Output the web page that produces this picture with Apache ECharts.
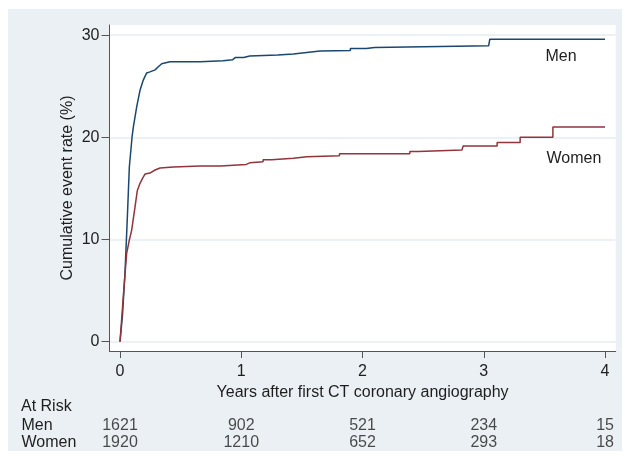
<!DOCTYPE html>
<html><head><meta charset="utf-8">
<script src="https://cdn.jsdelivr.net/npm/echarts@6/dist/echarts.min.js"></script>
<style>
html,body{margin:0;padding:0;background:#fff;}
#bg{position:absolute;left:8px;top:9px;width:614px;height:442px;background:#eaf0f3;}
#c{position:absolute;left:0;top:0;width:628px;height:456px;}
</style></head><body>
<div id="bg"></div><div id="c"></div>
<script>
// Cumulative event rate (%) vs years
const menTime = [0,0.02,0.041,0.06,0.077,0.10,0.11,0.138,0.165,0.192,0.22,0.247,0.289,0.316,0.344,0.412,0.66,0.66,0.85,0.85,0.93,0.95,1.02,1.02,1.07,1.07,1.30,1.30,1.43,1.43,1.54,1.54,1.65,1.65,1.90,1.90,2.03,2.03,2.10,2.10,3.04,3.05,4.0];
const menRate = [0,2.5,6.7,12.0,17.1,20.1,21.0,23.0,24.6,25.6,26.3,26.4,26.6,26.9,27.2,27.4,27.4,27.5,27.5,27.6,27.6,27.8,27.8,27.95,27.95,28.05,28.05,28.15,28.15,28.3,28.3,28.45,28.45,28.5,28.5,28.7,28.7,28.8,28.8,28.95,28.95,29.6,29.6];
const womenTime = [0,0.027,0.055,0.077,0.096,0.124,0.143,0.165,0.187,0.206,0.247,0.289,0.33,0.44,0.66,0.83,0.83,1.04,1.04,1.07,1.07,1.18,1.18,1.25,1.25,1.43,1.43,1.54,1.54,1.81,1.81,2.39,2.39,2.46,2.46,2.82,2.83,3.11,3.11,3.30,3.30,3.57,3.57,4.0];
const womenRate = [0,4.4,8.65,9.95,10.9,13.2,14.8,15.5,16.0,16.4,16.5,16.8,17.0,17.1,17.2,17.2,17.35,17.35,17.5,17.5,17.6,17.6,17.8,17.8,17.95,17.95,18.1,18.1,18.2,18.2,18.4,18.4,18.6,18.6,18.75,18.75,19.15,19.15,19.5,19.5,20.0,20.0,21.0,21.0];
const xTicks = [0,1,2,3,4];
const yTicks = [0,10,20,30];
const riskGroups = ['Men','Women'];
const atRiskMen = [1621,902,521,234,15];
const atRiskWomen = [1920,1210,652,293,18];
const menLabelAt = [3.505,27.86];
const womenLabelAt = [3.513,17.88];

const FONT = 'Liberation Sans, Arial, sans-serif';
const FS = 16;
const TXT = '#1e1e1e';
const AX = '#555';

function zip(a,b){return a.map((v,i)=>[v,b[i]]);}
const riskData = [];
xTicks.forEach((t,i)=>{
  riskData.push([t,'Men',atRiskMen[i]]);
  riskData.push([t,'Women',atRiskWomen[i]]);
});

const chart = echarts.init(document.getElementById('c'), null, {renderer:'canvas'});
chart.setOption({
  animation:false,
  backgroundColor:'transparent',
  textStyle:{fontFamily:FONT},
  grid:[
    {left:109.5,right:12.3,top:25,bottom:105,show:true,backgroundColor:'#ffffff',borderWidth:0},
    {left:109.5,right:12.3,top:417.5,height:34,show:false}
  ],
  xAxis:[
    {type:'value',gridIndex:0,min:-0.0866,max:4.088,
     axisLine:{show:true,onZero:false,lineStyle:{color:AX,width:1}},
     axisTick:{show:true,length:7,customValues:xTicks,lineStyle:{color:AX,width:1}},
     axisLabel:{customValues:xTicks,margin:13,fontSize:FS,color:TXT,fontFamily:FONT},
     splitLine:{show:false},
     name:'Years after first CT coronary angiography',nameLocation:'middle',nameGap:24,
     nameTextStyle:{fontSize:FS,color:TXT,fontFamily:FONT}},
    {type:'value',gridIndex:1,min:-0.0866,max:4.088,show:false}
  ],
  yAxis:[
    {type:'value',gridIndex:0,min:-0.91,max:30.99,
     axisLine:{show:true,onZero:false,lineStyle:{color:AX,width:1}},
     axisTick:{show:true,length:8,customValues:yTicks,lineStyle:{color:AX,width:1}},
     axisLabel:{customValues:yTicks,margin:10,fontSize:FS,color:TXT,fontFamily:FONT},
     splitLine:{show:true,lineStyle:{color:'#e5edf1',width:1.5}},
     name:'Cumulative event rate (%)',nameLocation:'middle',nameGap:34,nameMoveOverlap:false,
     nameTextStyle:{fontSize:FS,color:TXT,fontFamily:FONT}},
    {type:'category',gridIndex:1,data:riskGroups,inverse:true,
     axisLine:{show:false},axisTick:{show:false},splitLine:{show:false},
     axisLabel:{interval:0,align:'left',margin:88,fontSize:FS,color:TXT,fontFamily:FONT}}
  ],
  graphic:[
    {type:'text',left:21,top:399,style:{text:'At Risk',font:FS+'px '+FONT,fill:TXT}}
  ],
  series:[
    {type:'line',name:'Men',xAxisIndex:0,yAxisIndex:0,data:zip(menTime,menRate),
     showSymbol:false,lineStyle:{color:'#1a476f',width:1.5},itemStyle:{color:'#1a476f'},
     markPoint:{symbol:'circle',symbolSize:1,itemStyle:{color:'rgba(0,0,0,0)'},
       label:{show:true,position:'right',distance:0,formatter:'Men',fontSize:FS,color:TXT,fontFamily:FONT},
       data:[{coord:menLabelAt}]}},
    {type:'line',name:'Women',xAxisIndex:0,yAxisIndex:0,data:zip(womenTime,womenRate),
     showSymbol:false,lineStyle:{color:'#90353b',width:1.5},itemStyle:{color:'#90353b'},
     markPoint:{symbol:'circle',symbolSize:1,itemStyle:{color:'rgba(0,0,0,0)'},
       label:{show:true,position:'right',distance:0,formatter:'Women',fontSize:FS,color:TXT,fontFamily:FONT},
       data:[{coord:womenLabelAt}]}},
    {type:'scatter',xAxisIndex:1,yAxisIndex:1,data:riskData,symbolSize:1,
     itemStyle:{color:'rgba(0,0,0,0)'},
     label:{show:true,position:'inside',formatter:p=>String(p.value[2]),fontSize:FS,color:TXT,fontFamily:FONT}}
  ]
});
</script>
</body></html>
